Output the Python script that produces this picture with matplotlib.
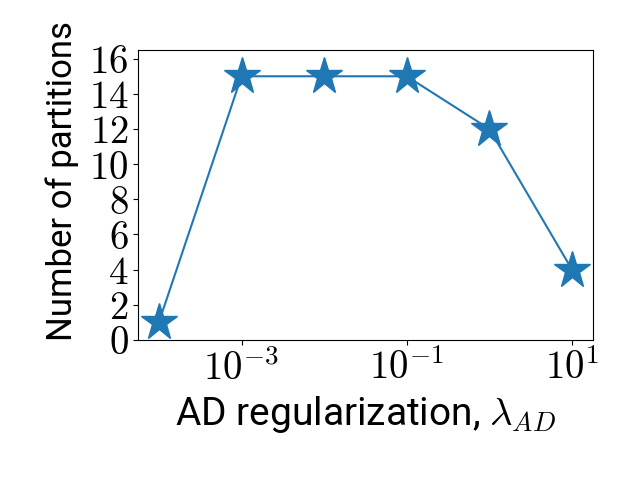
import numpy as np
import matplotlib
matplotlib.use("Agg")
import matplotlib.pyplot as plt
from matplotlib.ticker import FuncFormatter, FixedLocator, NullLocator

lam = [1e-4, 1e-3, 1e-2, 1e-1, 1e0, 1e1]
n_parts = [1, 15, 15, 15, 12, 4]
xticks = [1e-3, 1e-1, 1e1]
yticks = list(range(0, 17, 2))

plt.rcParams['mathtext.fontset'] = 'cm'
plt.rcParams['font.family'] = ['Roboto', 'DejaVu Sans']

fig, ax = plt.subplots(figsize=(6.4, 4.8), dpi=100)
fig.subplots_adjust(left=0.216, right=0.926, bottom=0.292, top=0.896)

ax.plot(lam, n_parts, marker='*', markersize=28, color='#1f77b4')
ax.set_xscale('log')
ax.set_ylim(0, max(n_parts) * 1.1)

ax.xaxis.set_major_locator(FixedLocator(xticks))
ax.xaxis.set_minor_locator(NullLocator())
ax.xaxis.set_major_formatter(FuncFormatter(lambda v, p: r'$10^{%d}$' % round(np.log10(v))))
ax.set_yticks(yticks)
ax.yaxis.set_major_formatter(FuncFormatter(lambda v, p: r'$%d$' % v))
ax.tick_params(labelsize=28)

ax.set_xlabel(r'AD regularization, $\lambda_{AD}$', fontsize=28)
ax.set_ylabel('Number of partitions', fontsize=25)
ax.yaxis.set_label_coords(-0.13, 0.548)

fig.savefig('out.png')
